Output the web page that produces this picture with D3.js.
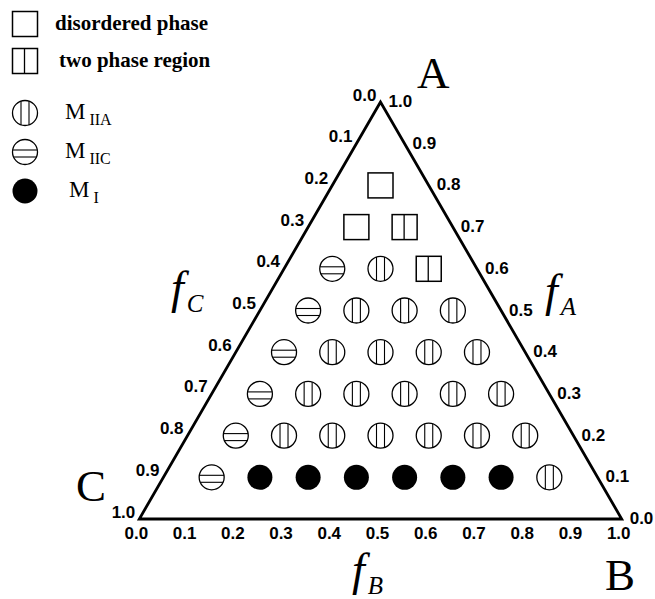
<!DOCTYPE html>
<html>
<head>
<meta charset="utf-8">
<script src="https://cdn.jsdelivr.net/npm/d3@7/dist/d3.min.js"></script>
<style>
  html, body { margin: 0; padding: 0; background: #fff; }
  svg { display: block; }
</style>
</head>
<body>
<svg id="chart" width="655" height="599"></svg>
<script>
// Ternary phase diagram: composition f_A (height), f_B, f_C.
const axisTicks = [0.0, 0.1, 0.2, 0.3, 0.4, 0.5, 0.6, 0.7, 0.8, 0.9, 1.0];
const tickLabels = ["0.0", "0.1", "0.2", "0.3", "0.4", "0.5", "0.6", "0.7", "0.8", "0.9", "1.0"];

// Simulated compositions, one row per value of f_A; f_B runs along each row
const rowFA = [0.1, 0.2, 0.3, 0.4, 0.5, 0.6, 0.7, 0.8];
const rowFB = [0.1, 0.2, 0.3, 0.4, 0.5, 0.6, 0.7, 0.8];
const rowPhases = [
  ["MIIC", "MI", "MI", "MI", "MI", "MI", "MI", "MIIA"],
  ["MIIC", "MIIA", "MIIA", "MIIA", "MIIA", "MIIA", "MIIA"],
  ["MIIC", "MIIA", "MIIA", "MIIA", "MIIA", "MIIA"],
  ["MIIC", "MIIA", "MIIA", "MIIA", "MIIA"],
  ["MIIC", "MIIA", "MIIA", "MIIA"],
  ["MIIC", "MIIA", "TWO"],
  ["DIS", "TWO"],
  ["DIS"]
];

const legendKeys = ["DIS", "TWO", "MIIA", "MIIC", "MI"];
const legendLabels = ["disordered phase", "two phase region", ["M", "IIA"], ["M", "IIC"], ["M", "I"]];

const svg = d3.select("#chart");
const SERIF = "'Liberation Serif', 'Times New Roman', serif";
const SANS = "'Liberation Sans', Arial, sans-serif";

// Cartesian mapping: x from (f_B + f_A/2), y from f_A
const xs = d3.scaleLinear().domain([0, 1]).range([139.3, 621.7]);
const ys = d3.scaleLinear().domain([0, 1]).range([519, 102]);
const px = (fA, fB) => xs(fB + fA / 2);
const py = (fA) => ys(fA);

// Triangle outline
const corners = [[px(1, 0), py(1)], [px(0, 0), py(0)], [px(0, 1), py(0)]];
svg.append("path")
  .attr("d", d3.line()(corners) + "Z")
  .attr("fill", "none")
  .attr("stroke", "#000")
  .attr("stroke-width", 2.8)
  .attr("stroke-linejoin", "miter");

const tickStyle = sel => sel
  .attr("font-family", SANS)
  .attr("font-weight", "bold")
  .attr("font-size", 17)
  .attr("fill", "#000");

// f_B along the base
svg.append("g").selectAll("text").data(axisTicks).join("text")
  .call(tickStyle)
  .attr("x", d => xs(d) - 3)
  .attr("y", 539)
  .attr("text-anchor", "middle")
  .text((d, i) => tickLabels[i]);

// f_A along the right edge (f_C = 0)
svg.append("g").selectAll("text").data(axisTicks).join("text")
  .call(tickStyle)
  .attr("x", d => px(d, 1 - d) + 8)
  .attr("y", d => py(d) + 5)
  .attr("text-anchor", "start")
  .text((d, i) => tickLabels[i]);

// f_C along the left edge (f_B = 0)
svg.append("g").selectAll("text").data(axisTicks).join("text")
  .call(tickStyle)
  .attr("x", d => px(1 - d, 0) - 4)
  .attr("y", d => py(1 - d) - 1.5)
  .attr("text-anchor", "end")
  .text((d, i) => tickLabels[i]);

// Marker drawing
const R = 12.5, S = 25;
function drawMarker(g, kind) {
  if (kind === "DIS" || kind === "TWO") {
    g.append("rect").attr("x", -S / 2).attr("y", -S / 2).attr("width", S).attr("height", S)
      .attr("fill", "#fff").attr("stroke", "#000").attr("stroke-width", 1.5);
    if (kind === "TWO") {
      g.append("line").attr("x1", -0.5).attr("x2", -0.5).attr("y1", -S / 2).attr("y2", S / 2)
        .attr("stroke", "#000").attr("stroke-width", 1.3);
    }
  } else if (kind === "MI") {
    g.append("circle").attr("r", R).attr("fill", "#000");
  } else {
    g.append("circle").attr("r", R).attr("fill", "#fff").attr("stroke", "#000").attr("stroke-width", 1.3);
    const offs = kind === "MIIA" ? [-4, 4] : [-2, 5];
    offs.forEach(o => {
      const h = Math.sqrt(R * R - o * o);
      const ln = g.append("line").attr("stroke", "#000").attr("stroke-width", 1.1);
      if (kind === "MIIA") ln.attr("x1", o).attr("x2", o).attr("y1", -h).attr("y2", h);
      else ln.attr("y1", o).attr("y2", o).attr("x1", -h).attr("x2", h);
    });
  }
}

// Data points
const points = [];
rowPhases.forEach((row, i) => row.forEach((kind, j) => points.push({ fA: rowFA[i], fB: rowFB[j], kind })));
svg.append("g").selectAll("g").data(points).join("g")
  .attr("transform", d => `translate(${px(d.fA, d.fB)},${py(d.fA)})`)
  .each(function (d) { drawMarker(d3.select(this), d.kind); });

// Legend
const legendY = [24, 61, 113, 152, 191];
const lg = svg.append("g");
legendKeys.forEach((k, i) => {
  const g = lg.append("g").attr("transform", `translate(25,${legendY[i]})`);
  drawMarker(g, k);
  const lab = legendLabels[i];
  if (typeof lab === "string") {
    lg.append("text")
      .attr("x", i === 0 ? 55 : 59).attr("y", legendY[i] + 6)
      .attr("font-family", SERIF).attr("font-weight", "bold").attr("font-size", 21)
      .text(lab);
  } else {
    const t = lg.append("text")
      .attr("x", i === 4 ? 69 : 65).attr("y", legendY[i] + 6)
      .attr("font-family", SERIF).attr("font-size", 23);
    t.append("tspan").text(lab[0]);
    t.append("tspan").attr("dx", 4).attr("dy", 6).attr("font-size", 16).text(lab[1]);
  }
});

// Vertex labels
const vtx = [["A", 417, 88], ["B", 605, 590], ["C", 76, 501]];
svg.append("g").selectAll("text").data(vtx).join("text")
  .attr("x", d => d[1]).attr("y", d => d[2])
  .attr("font-family", SERIF).attr("font-size", 45)
  .text(d => d[0]);

// Axis titles f_A, f_B, f_C
const titles = [["A", 545, 306], ["B", 352, 585], ["C", 171, 303]];
titles.forEach(([sub, x, y]) => {
  const t = svg.append("text").attr("x", x).attr("y", y)
    .attr("font-family", SERIF).attr("font-style", "italic").attr("font-size", 46);
  t.append("tspan").text("f");
  t.append("tspan").attr("dx", 3).attr("dy", 9).attr("font-size", 25).text(sub);
});
</script>
</body>
</html>
